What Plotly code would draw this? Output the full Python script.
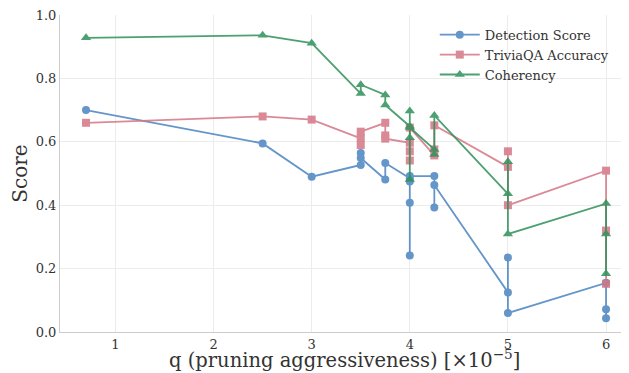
import plotly.graph_objects as go

# Data (x in units of 1e-5)
det_x = [0.7, 2.5, 3.0, 3.5, 3.5, 3.5, 3.75, 3.75, 4.0, 4.0, 4.0, 4.0, 4.0, 4.25, 4.25, 4.25, 5.0, 5.0, 5.0, 6.0, 6.0, 6.0]
det_y = [0.70, 0.595, 0.49, 0.527, 0.565, 0.549, 0.481, 0.533, 0.485, 0.241, 0.408, 0.475, 0.492, 0.492, 0.393, 0.464, 0.125, 0.235, 0.06, 0.155, 0.072, 0.043]

tqa_x = [0.7, 2.5, 3.0, 3.5, 3.5, 3.5, 3.75, 3.75, 3.75, 4.0, 4.0, 4.0, 4.0, 4.25, 4.25, 4.25, 5.0, 5.0, 5.0, 6.0, 6.0, 6.0]
tqa_y = [0.66, 0.68, 0.67, 0.611, 0.59, 0.632, 0.66, 0.62, 0.61, 0.597, 0.57, 0.541, 0.645, 0.557, 0.576, 0.652, 0.521, 0.57, 0.40, 0.509, 0.32, 0.152]

coh_x = [0.7, 2.5, 3.0, 3.5, 3.5, 3.75, 3.75, 4.0, 4.0, 4.0, 4.0, 4.0, 4.25, 4.25, 4.25, 5.0, 5.0, 5.0, 6.0, 6.0, 6.0]
coh_y = [0.928, 0.936, 0.911, 0.752, 0.78, 0.748, 0.716, 0.649, 0.697, 0.481, 0.613, 0.645, 0.576, 0.56, 0.683, 0.436, 0.537, 0.309, 0.405, 0.184, 0.309]

series = [
    ("Detection Score", det_x, det_y, "#4a84c0", "circle", 8),
    ("TriviaQA Accuracy", tqa_x, tqa_y, "#d47684", "square", 8),
    ("Coherency", coh_x, coh_y, "#2f905a", "triangle-up", 9),
]

FF = "'DejaVu Serif', 'Liberation Serif', serif"
TXT = "#333333"

fig = go.Figure()
for name, xs, ys, col, sym, sz in series:
    fig.add_trace(go.Scatter(
        x=xs, y=ys, name=name, mode="lines+markers",
        line=dict(color=col, width=1.8),
        marker=dict(color=col, symbol=sym, size=sz, line=dict(width=0)),
        opacity=0.85,
    ))

# page body has an 8px default margin, so the figure is sized to fill the rest
fig.update_layout(
    width=621, height=365,
    margin=dict(l=52, r=0, t=7, b=41),
    plot_bgcolor="white", paper_bgcolor="white",
    font=dict(family=FF, color=TXT, size=13),
    showlegend=True,
    legend=dict(x=0.975, y=0.985, xanchor="right", yanchor="top",
                bgcolor="rgba(255,255,255,0)", font=dict(size=13, family=FF, color=TXT),
                itemwidth=40, tracegroupgap=0),
)
fig.add_annotation(
    text="q (pruning aggressiveness) [×10<sup>−5</sup>]",
    xref="paper", yref="paper", x=0.5, y=0, xanchor="center", yanchor="top",
    yshift=-12, showarrow=False, font=dict(size=19.5, color=TXT, family=FF),
)
fig.update_xaxes(
    range=[0.435, 6.234], tickvals=[1, 2, 3, 4, 5, 6], ticktext=["1", "2", "3", "4", "5", "6"],
    showgrid=True, gridcolor="#ececec", gridwidth=1, zeroline=False,
    showline=True, linecolor="#cccccc", linewidth=1, mirror=False,
    ticks="", tickfont=dict(size=13, color=TXT, family=FF),
)
fig.update_yaxes(
    range=[0, 1.0], tickvals=[0, 0.2, 0.4, 0.6, 0.8, 1.0], tickformat=".1f",
    ticklabeloverflow="allow",
    showgrid=True, gridcolor="#ececec", gridwidth=1, zeroline=False,
    showline=True, linecolor="#cccccc", linewidth=1,
    ticks="", tickfont=dict(size=13, color=TXT, family=FF),
    title=dict(text="Score", font=dict(size=20, color=TXT, family=FF), standoff=7),
)
fig.write_html("out.html")
